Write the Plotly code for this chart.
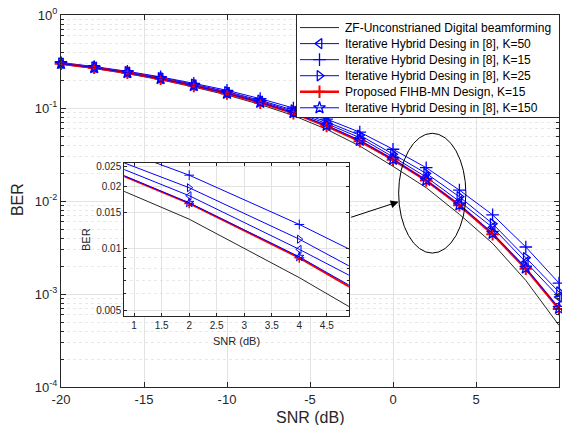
import math
import plotly.graph_objects as go

# ---------------- data ----------------
snr = [-20, -18, -16, -14, -12, -10, -8, -6, -4, -2, 0, 2, 4, 6, 8, 10]

ber_zf = [0.296, 0.266, 0.234, 0.201, 0.168, 0.138, 0.109, 0.083, 0.059, 0.039,
          0.0236, 0.0139, 0.0072, 0.0035, 0.0014, 0.00046]
ber_k50 = [0.303, 0.274, 0.242, 0.209, 0.177, 0.147, 0.118, 0.092, 0.068, 0.048,
           0.0298, 0.0181, 0.0099, 0.0052, 0.0022, 0.00093]
ber_k15 = [0.308, 0.279, 0.248, 0.216, 0.184, 0.155, 0.126, 0.100, 0.076, 0.055,
           0.0360, 0.0228, 0.0131, 0.0071, 0.0032, 0.00131]
ber_k25 = [0.305, 0.276, 0.245, 0.212, 0.180, 0.150, 0.121, 0.095, 0.071, 0.051,
           0.0319, 0.0198, 0.0111, 0.0057, 0.00246, 0.00105]
ber_prop = [0.300, 0.271, 0.239, 0.206, 0.173, 0.143, 0.114, 0.088, 0.064, 0.044,
            0.0278, 0.0166, 0.0090, 0.0044, 0.00187, 0.00069]
ber_k150 = [0.301, 0.272, 0.240, 0.207, 0.174, 0.144, 0.115, 0.089, 0.065, 0.045,
            0.0280, 0.0167, 0.0091, 0.0045, 0.0019, 0.00070]

series_names = [
    "ZF-Unconstrianed Digital beamforming",
    "Iterative Hybrid Desing in [8], K=50",
    "Iterative Hybrid Desing in [8], K=15",
    "Iterative Hybrid Desing in [8], K=25",
    "Proposed FIHB-MN Design, K=15",
    "Iterative Hybrid Desing in [8], K=150",
]
series_values = [ber_zf, ber_k50, ber_k15, ber_k25, ber_prop, ber_k150]

x_ticks = [-20, -15, -10, -5, 0, 5, 10]
x_ticklabels = ["-20", "-15", "-10", "-5", "0", "5", "10"]
y_ticks = [1e-4, 1e-3, 1e-2, 1e-1, 1]
y_ticklabels = ["10<sup>-4</sup>", "10<sup>-3</sup>", "10<sup>-2</sup>",
                "10<sup>-1</sup>", "10<sup>0</sup>"]
inset_x_ticks = [1, 1.5, 2, 2.5, 3, 3.5, 4, 4.5]
inset_y_ticks = [0.005, 0.01, 0.015, 0.02, 0.025]
inset_y_ticklabels = ["0.005", "0.01", "0.015", "0.02", "0.025"]

# ---------------- styles ----------------
BLUE = "#0000FF"
styles = [
    dict(color="#262626", width=1, symbol=None),
    dict(color=BLUE, width=1, symbol="triangle-left-open"),
    dict(color=BLUE, width=1, symbol="cross-thin-open"),
    dict(color=BLUE, width=1, symbol="triangle-right-open"),
    dict(color="#FF0000", width=2.5, symbol="cross-thin-open"),
    dict(color=BLUE, width=1, symbol="star-open"),
]


def marker_for(st, size, lw_thin, lw_thick):
    if st["symbol"] is None:
        return None
    return dict(symbol=st["symbol"], size=size, color=st["color"],
                line=dict(color=st["color"], width=lw_thin if st["width"] < 2 else lw_thick))


fig = go.Figure()
# main axes
for name, vals, st in zip(series_names, series_values, styles):
    fig.add_trace(go.Scatter(
        x=snr, y=vals, name=name, showlegend=False,
        mode="lines" if st["symbol"] is None else "lines+markers",
        line=dict(color=st["color"], width=st["width"]),
        marker=marker_for(st, 9, 1.3, 2), cliponaxis=False,
        xaxis="x", yaxis="y"))
# inset axes
for name, vals, st in zip(series_names, series_values, styles):
    fig.add_trace(go.Scatter(
        x=snr, y=vals, name=name, showlegend=False,
        mode="lines" if st["symbol"] is None else "lines+markers",
        line=dict(color=st["color"], width=st["width"] if st["width"] < 2 else 2),
        marker=marker_for(st, 7, 1, 1.5), cliponaxis=True,
        xaxis="x2", yaxis="y2"))

# legend drawn as its own small subplot (box in pixel-like units)
LEG_W, LEG_H = 262, 103
row_y = [12.7 + 16.2 * i for i in range(len(series_names))]
for name, st, ry in zip(series_names, styles, row_y):
    fig.add_trace(go.Scatter(
        x=[3, 42], y=[ry, ry], mode="lines", showlegend=False, hoverinfo="skip",
        line=dict(color=st["color"], width=st["width"]), xaxis="x3", yaxis="y3"))
    if st["symbol"] is not None:
        fig.add_trace(go.Scatter(
            x=[22.5], y=[ry], mode="markers", showlegend=False, hoverinfo="skip",
            marker=marker_for(st, 9, 1.3, 2), xaxis="x3", yaxis="y3"))
    fig.add_annotation(x=46, y=ry, xref="x3", yref="y3", text=name,
                       showarrow=False, xanchor="left", yanchor="middle",
                       font=dict(size=12, color="#000000"))

AX = "#262626"
GRID = "#E3E3E3"
MINORGRID = "#E8E8E8"

minor_main = []
for e in range(-4, 0):
    for m in range(2, 10):
        minor_main.append(m * 10 ** e)

fig.update_layout(
    width=562, height=425,
    margin=dict(l=61, r=3, t=15, b=38, autoexpand=False),
    paper_bgcolor="white", plot_bgcolor="white",
    font=dict(family="Liberation Sans, Arial, sans-serif", color=AX, size=13),
    showlegend=False,
    xaxis=dict(domain=[0, 1], range=[-20, 10], tickvals=x_ticks, ticktext=x_ticklabels,
               automargin=False,
               ticks="inside", ticklen=5, tickcolor=AX,
               showline=True, linecolor=AX, linewidth=1, mirror="ticks",
               showgrid=True, gridcolor=GRID, zeroline=False,
               tickfont=dict(size=13)),
    yaxis=dict(type="log", range=[-4, 0], tickvals=y_ticks, ticktext=y_ticklabels,
               automargin=False,
               ticks="inside", ticklen=5, tickcolor=AX,
               showline=True, linecolor=AX, linewidth=1, mirror="ticks",
               showgrid=True, gridcolor=GRID, zeroline=False,
               tickfont=dict(size=13),
               minor=dict(tickvals=minor_main, ticks="inside", ticklen=3, tickcolor=AX,
                          showgrid=True, gridcolor=MINORGRID, griddash="dot")),
    xaxis2=dict(domain=[0.127, 0.578], anchor="y2", range=[0.82, 4.9],
                automargin=False,
                tickvals=inset_x_ticks, ticks="inside", ticklen=3, tickcolor=AX,
                showline=True, linecolor=AX, linewidth=1, mirror="ticks",
                showgrid=True, gridcolor=GRID, zeroline=False,
                tickfont=dict(size=10)),
    yaxis2=dict(domain=[0.191, 0.603], anchor="x2", type="log",
                automargin=False,
                range=[math.log10(0.00468), math.log10(0.02624)],
                tickvals=inset_y_ticks, ticktext=inset_y_ticklabels,
                ticks="inside", ticklen=3, tickcolor=AX,
                showline=True, linecolor=AX, linewidth=1, mirror="ticks",
                showgrid=True, gridcolor=GRID, zeroline=False,
                tickfont=dict(size=10),
                minor=dict(tickvals=[0.006, 0.007, 0.008, 0.009], ticks="inside",
                           ticklen=2, tickcolor=AX, showgrid=True,
                           gridcolor=MINORGRID, griddash="dot")),
    xaxis3=dict(domain=[(297 - 61) / 498, 1], anchor="y3", range=[0, LEG_W],
                automargin=False,
                showline=True, linecolor=AX, linewidth=1, mirror=True,
                showgrid=False, zeroline=False, showticklabels=False, ticks=""),
    yaxis3=dict(domain=[1 - (117 - 15) / 372, 1], anchor="x3", range=[LEG_H, 0],
                automargin=False,
                showline=True, linecolor=AX, linewidth=1, mirror=True,
                showgrid=False, zeroline=False, showticklabels=False, ticks=""),
)

# axis titles
fig.add_annotation(x=0.5, y=-0.0833, xref="paper", yref="paper", text="SNR (dB)",
                   showarrow=False, xanchor="center", yanchor="middle",
                   font=dict(size=16, color=AX))
fig.add_annotation(x=-0.0884, y=0.505, xref="paper", yref="paper", text="BER",
                   showarrow=False, xanchor="center", yanchor="middle", textangle=-90,
                   font=dict(size=16, color=AX))
fig.add_annotation(x=0.3524, y=0.1245, xref="paper", yref="paper", text="SNR (dB)",
                   showarrow=False, xanchor="center", yanchor="middle",
                   font=dict(size=11, color=AX))
fig.add_annotation(x=0.0516, y=0.397, xref="paper", yref="paper", text="BER",
                   showarrow=False, xanchor="center", yanchor="middle", textangle=-90,
                   font=dict(size=11, color=AX))

# ellipse highlighting the zoomed region and arrow from the inset
fig.add_shape(type="circle", xref="paper", yref="paper",
              x0=0.678, x1=0.813, y0=0.360, y1=0.682,
              line=dict(color="#000000", width=1))
fig.add_annotation(x=0.678, y=0.498, xref="paper", yref="paper",
                   ax=-49, ay=16, text="", showarrow=True,
                   arrowhead=2, arrowsize=1.6, arrowwidth=1, arrowcolor="#000000")

fig.write_html("out.html")
